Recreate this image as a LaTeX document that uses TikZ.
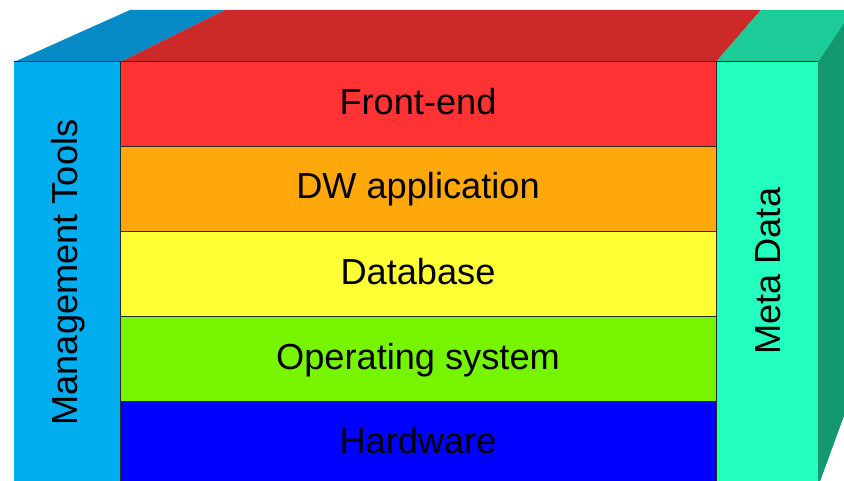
\documentclass[tikz,border=0pt]{standalone}
\usepackage{fontspec}
\setmainfont{Liberation Sans}
\definecolor{mtfront}{RGB}{0,174,239}
\definecolor{mttop}{RGB}{5,138,197}
\definecolor{fefront}{RGB}{255,51,51}
\definecolor{fetop}{RGB}{204,41,41}
\definecolor{dwcol}{RGB}{255,168,12}
\definecolor{dbcol}{RGB}{255,255,51}
\definecolor{oscol}{RGB}{119,245,0}
\definecolor{hwcol}{RGB}{0,0,255}
\definecolor{mdfront}{RGB}{34,255,191}
\definecolor{mdtop}{RGB}{27,204,152}
\definecolor{mdside}{RGB}{20,152,112}
\definecolor{edgecol}{RGB}{40,40,40}
\tikzset{
  lbl/.style={font=\fontsize{36.2}{40}\selectfont, inner sep=0pt, anchor=base},
  edgeline/.style={draw=edgecol, line width=1pt},
}
\begin{document}
\begin{tikzpicture}[x=1pt,y=-1pt]
\useasboundingbox (0,0) rectangle (844,481);
\clip (0,0) rectangle (844,481);
% top faces
\fill[mttop] (14,62) -- (120,62) -- (225.2,10) -- (130,10) -- cycle;
\fill[fetop] (120,62) -- (716,62) -- (761,10) -- (225.2,10) -- cycle;
\fill[mdtop] (716,62) -- (818,62) -- (852.7,10) -- (761,10) -- cycle;
% right side face
\fill[mdside] (818,62) -- (852.7,10) -- (852.7,392.1) -- (818,487) -- cycle;
% front faces
\fill[mtfront] (14,62) rectangle (120,487);
\fill[mdfront] (716,62) rectangle (818,487);
\fill[fefront] (120,62) rectangle (716,146.7);
\fill[dwcol] (120,146.7) rectangle (716,231.7);
\fill[dbcol] (120,231.7) rectangle (716,316.7);
\fill[oscol] (120,316.7) rectangle (716,401.7);
\fill[hwcol] (120,401.7) rectangle (716,487);
% edges
\draw[edgeline] (14,62) -- (818,62);
\draw[edgeline] (120,62) -- (120,487);
\draw[edgeline] (716,62) -- (716,487);
\draw[edgeline] (120,146.7) -- (716,146.7);
\draw[edgeline] (120,231.7) -- (716,231.7);
\draw[edgeline] (120,316.7) -- (716,316.7);
\draw[edgeline] (120,401.7) -- (716,401.7);
% labels
\node[lbl] (fe) at (418,115) {Front-end};
\node[lbl] (dw) at (418,198.3) {DW application};
\node[lbl] (db) at (418,285) {Database};
\node[lbl] (os) at (418,369.3) {Operating system};
\node[lbl] (hw) at (418,453.3) {Hardware};
\node[lbl, rotate=90] (mt) at (77,272.5) {Management Tools};
\node[lbl, rotate=90] (md) at (780,271.3) {Meta Data};
\end{tikzpicture}
\end{document}
